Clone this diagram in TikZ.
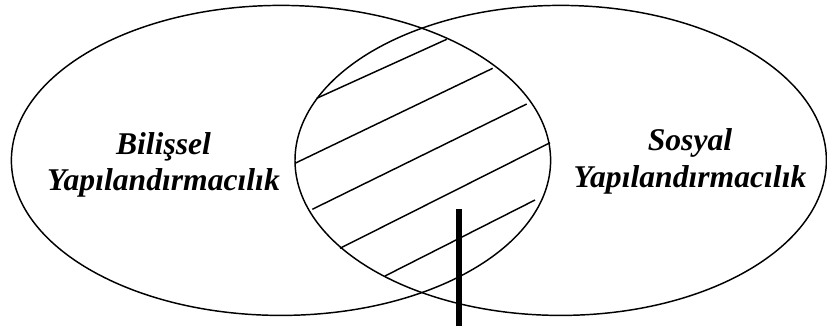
\documentclass[tikz,border=0pt]{standalone}
\usepackage{fontspec}
\setmainfont{Liberation Serif}
\usetikzlibrary{positioning}
\tikzset{lbl/.style={align=center,font=\fontsize{27}{31.3}\selectfont\bfseries\itshape}}

\begin{document}
\begin{tikzpicture}[x=0.03cm,y=-0.03cm,line width=1.25pt]
\useasboundingbox (0,0) rectangle (827,326);
\draw (281,160.4) ellipse[x radius=269.6,y radius=155];
\draw (560.7,160.4) ellipse[x radius=265.7,y radius=155];
\draw (316.7,98.3)--(446.7,39.3) (295,163.3)--(492.7,68.3) (312.3,209.3)--(526.7,104)
      (340,248.3)--(550,142.7) (385,276)--(535,200);
\node[lbl] (bil) at (163.5,165) {Bilişsel\\Yapılandırmacılık};
\node[lbl] (sos) at (690,161.7) {Sosyal\\Yapılandırmacılık};
\coordinate (bartop) at (459,209.3);\coordinate (barbot) at (459,326);
\draw[line width=5.1pt] (bartop)--(barbot);
\end{tikzpicture}
\end{document}
